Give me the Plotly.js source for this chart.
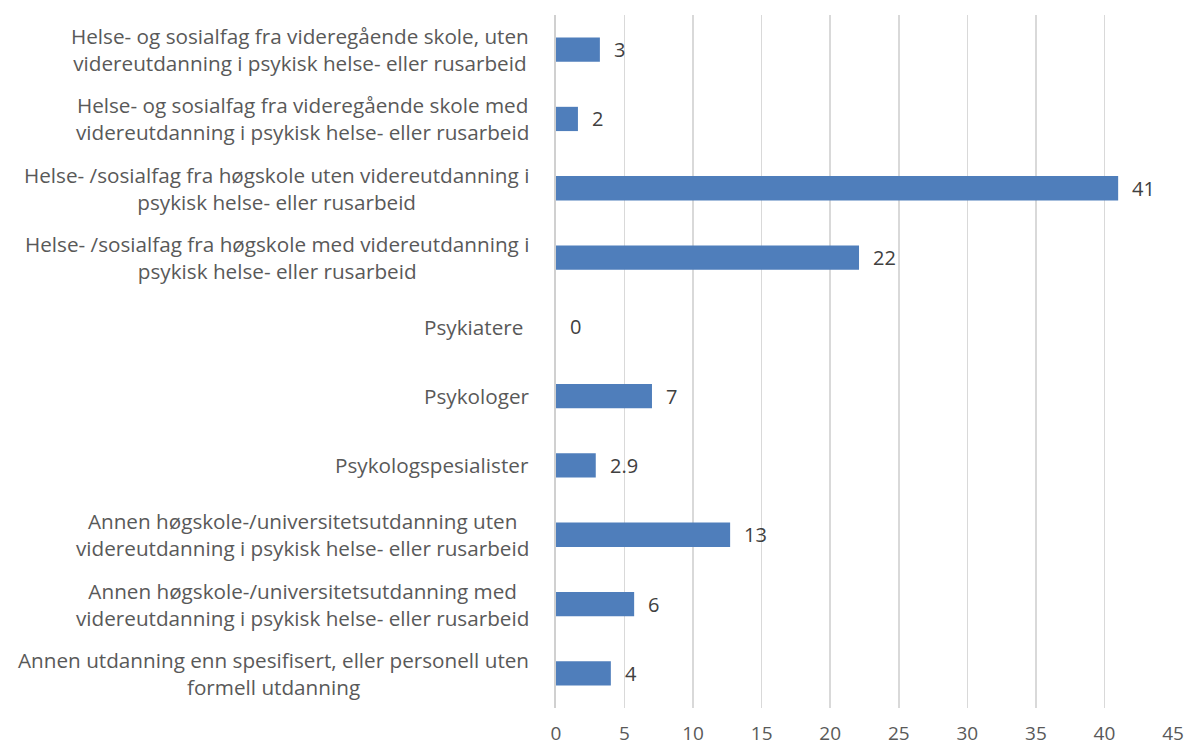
<!DOCTYPE html>
<html>
<head>
<meta charset="utf-8">
<script src="https://cdn.plot.ly/plotly-3.0.1.min.js"></script>
<style>html,body{margin:0;padding:0;background:#fff;}#chart{width:1189px;height:747px;}</style>
</head>
<body>
<div id="chart"></div>
<script>
const categories = [
  "Helse- og sosialfag fra videregående skole, uten<br>videreutdanning i psykisk helse- eller rusarbeid",
  "Helse- og sosialfag fra videregående skole med<br>videreutdanning i psykisk helse- eller rusarbeid",
  "Helse- /sosialfag fra høgskole uten videreutdanning i<br>psykisk helse- eller rusarbeid",
  "Helse- /sosialfag fra høgskole med videreutdanning i<br>psykisk helse- eller rusarbeid",
  "Psykiatere ",
  "Psykologer",
  "Psykologspesialister",
  "Annen høgskole-/universitetsutdanning uten<br>videreutdanning i psykisk helse- eller rusarbeid",
  "Annen høgskole-/universitetsutdanning med<br>videreutdanning i psykisk helse- eller rusarbeid",
  "Annen utdanning enn spesifisert, eller personell uten<br>formell utdanning"
];
const values = [3.2, 1.6, 41, 22.1, 0, 7, 2.9, 12.7, 5.7, 4];
const valueLabels = ["3", "2", "41", "22", "0", "7", "2.9", "13", "6", "4"];
const xTicks = [0, 5, 10, 15, 20, 25, 30, 35, 40, 45];

const FONT = "'Open Sans', sans-serif";
const ids = categories.map((c, i) => "c" + i);

const annotations = [];
categories.forEach((c, i) => {
  annotations.push({
    xref: "paper", yref: "y", x: 0, y: ids[i],
    xanchor: "right", yanchor: "middle", xshift: -25,
    text: c, showarrow: false, align: "center",
    font: {family: FONT, size: 20.7, color: "#595959"}
  });
  annotations.push({
    xref: "x", yref: "y", x: values[i], y: ids[i],
    xanchor: "left", yanchor: "middle", xshift: 12,
    text: valueLabels[i], showarrow: false,
    font: {family: FONT, size: 20, color: "#404040"}
  });
});

const trace = {
  type: "bar", orientation: "h",
  x: values, y: ids,
  marker: {color: "#4f7ebb", line: {width: 0}},
  hoverinfo: "skip"
};

const layout = {
  width: 1189, height: 747,
  margin: {l: 556, r: 16, t: 15, b: 39},
  paper_bgcolor: "#fff", plot_bgcolor: "#fff",
  showlegend: false,
  bargap: 0.65,
  xaxis: {
    range: [0, 45], tickvals: xTicks, ticktext: xTicks.map(String),
    showgrid: true, gridcolor: "#d9d9d9", gridwidth: 1.5,
    zeroline: false, showline: false, ticks: "",
    ticklabelstandoff: 12,
    tickfont: {family: FONT, size: 19, color: "#595959"}
  },
  yaxis: {
    type: "category", autorange: "reversed",
    showticklabels: false, showgrid: false, zeroline: false,
    showline: true, linecolor: "#d0d0d0", linewidth: 2, ticks: ""
  },
  annotations: annotations
};

Plotly.newPlot("chart", [trace], layout, {staticPlot: true, displayModeBar: false});
</script>
</body>
</html>
